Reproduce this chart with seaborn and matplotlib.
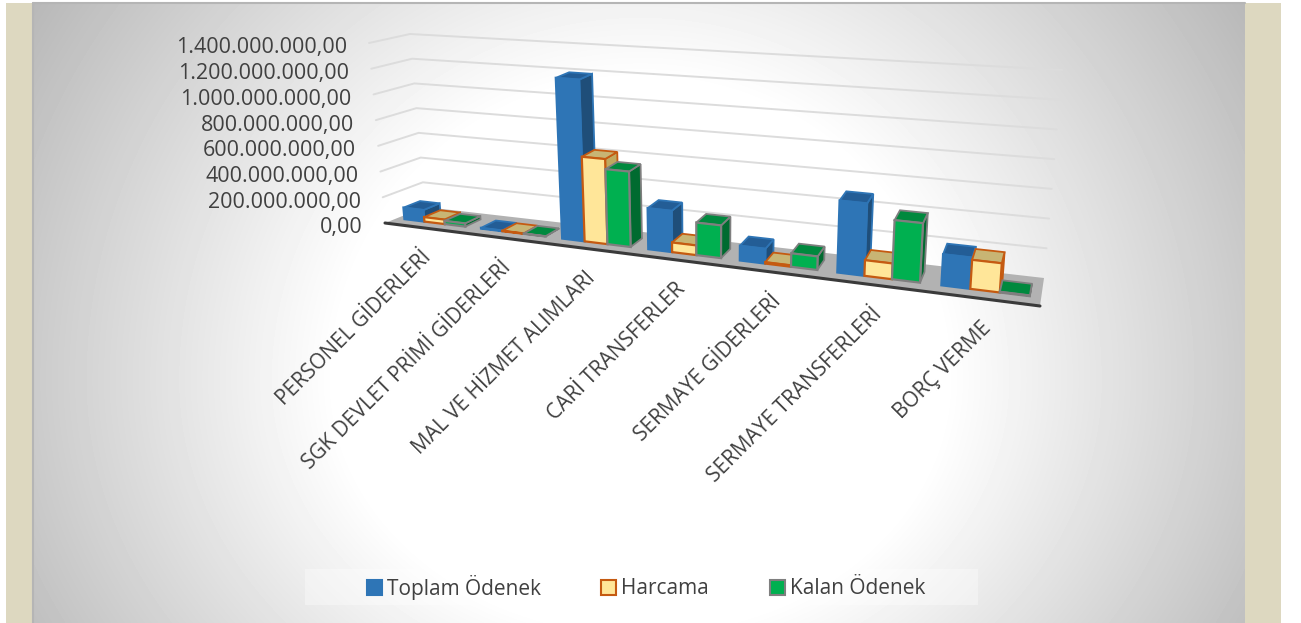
import numpy as np
import pandas as pd
import seaborn as sns
import matplotlib
matplotlib.use("Agg")
import matplotlib.pyplot as plt
from matplotlib.patches import Polygon, Rectangle
from matplotlib.transforms import Transform

### 1. Data
categories = ["PERSONEL GİDERLERİ", "SGK DEVLET PRİMİ GİDERLERİ",
              "MAL VE HİZMET ALIMLARI", "CARİ TRANSFERLER",
              "SERMAYE GİDERLERİ", "SERMAYE TRANSFERLERİ", "BORÇ VERME"]
toplam = [90e6, 5e6, 1205e6, 300e6, 105e6, 500e6, 210e6]
harcama = [35e6, 3e6, 630e6, 70e6, 10e6, 108e6, 195e6]
kalan = [25e6, 2e6, 555e6, 235e6, 95e6, 405e6, 5e6]
series = ["Toplam Ödenek", "Harcama", "Kalan Ödenek"]
tick_values = [0, 200e6, 400e6, 600e6, 800e6, 1000e6, 1200e6, 1400e6]
tick_labels = ["0,00", "200.000.000,00", "400.000.000,00", "600.000.000,00",
               "800.000.000,00", "1.000.000.000,00", "1.200.000.000,00",
               "1.400.000.000,00"]

df = pd.DataFrame({
    "kategori": categories * 3,
    "seri": np.repeat(series, len(categories)),
    "deger": toplam + harcama + kalan,
})

### 2. Fake 3D projection: (category, value, depth) -> image pixels
# corners of the chart box, [x index][value index][depth index]
BOX = np.array([
    [[(385, 223), (425, 207)], [(369, 43), (410, 34)]],
    [[(1040, 306), (1044, 278)], [(1056, 92), (1062, 70)]],
], dtype=float)
PERSPECTIVE = 1.243
YMAX = 1400e6
BAR_FRONT, BAR_BACK = 0.30, 0.72


def project(x, y, d):
    x, y, d = np.asarray(x, float), np.asarray(y, float), np.asarray(d, float)
    u = (x + 0.5) / 7
    t = u / (PERSPECTIVE - (PERSPECTIVE - 1) * u)
    v = y / YMAX
    out = 0
    for i, wi in enumerate([1 - t, t]):
        for j, wj in enumerate([1 - v, v]):
            for k, wk in enumerate([1 - d, d]):
                out = out + (wi * wj * wk)[..., None] * BOX[i, j, k]
    return out


class DepthTransform(Transform):
    input_dims = 2
    output_dims = 2

    def __init__(self, bar_depth):
        super().__init__()
        self.bar_depth = bar_depth

    def transform_non_affine(self, values):
        values = np.asarray(values)
        return project(values[:, 0], values[:, 1],
                       np.full(len(values), self.bar_depth))


### 3. Figure, background
sns.set_theme(style="white")
plt.rcParams["font.family"] = ["Open Sans", "DejaVu Sans"]
TEXT = "#404040"

fig = plt.figure(figsize=(13.01, 6.23), dpi=100, facecolor="white")
bg = fig.add_axes([0, 0, 1, 1])
bg.set_xlim(0, 1301)
bg.set_ylim(623, 0)
bg.axis("off")

bg.add_patch(Rectangle((6, 3), 1275, 620, color="#DDD8C0", lw=0, zorder=-2))
gx, gy = np.meshgrid(np.arange(33, 1245), np.arange(3, 623))
ry = np.where(gy < 380, 600, 500)
r = np.sqrt(((gx - 640) / 610) ** 2 + ((gy - 380) / ry) ** 2)
gray = 255 - 105 * np.clip(r - 0.5, 0, None)
bg.imshow(gray, cmap="gray", vmin=0, vmax=255, extent=(33, 1245, 623, 3),
          aspect="auto", interpolation="bilinear", zorder=-1)
bg.set_xlim(0, 1301)
bg.set_ylim(623, 0)
bg.plot([33, 33], [623, 3], color="#B5B5B5", lw=1.5)
bg.plot([33, 1245], [3, 3], color="#B5B5B5", lw=1.5)

# walls and floor
for val in tick_values[1:]:
    pts = project([-0.5, -0.5, 6.5], [val] * 3, [0, 1, 1])
    bg.plot(pts[:, 0], pts[:, 1], color="#DCDCDC", lw=1.4)
floor = project([-0.5, -0.5, 6.5, 6.5], [0] * 4, [0, 1, 1, 0])
bg.add_patch(Polygon(floor, color="#B2B2B2", lw=0))
front = project([-0.5, 6.5], [0, 0], [0, 0])
bg.plot(front[:, 0], front[:, 1], color="#3A3A3A", lw=2.2)

# value axis labels follow the front left edge
for val, lab in zip(tick_values, tick_labels):
    px, py = project(-0.5, val, 0)
    bg.text(px - 22, py + 5, lab, ha="right", va="center", fontsize=15.5,
            color=TEXT)

# category labels
for i, cat in enumerate(categories):
    px, py = project(i, 0, 0)
    bg.text(px + 5, py + 26, cat, rotation=45, rotation_mode="anchor",
            ha="right", va="center", fontsize=15, color=TEXT)

### 4. Bars
ax = fig.add_axes([0, 0, 1, 1])
ax.patch.set_visible(False)
sns.barplot(data=df, x="kategori", y="deger", hue="seri", hue_order=series,
            order=categories, palette=["#2E75B6", "#FFE699", "#00B050"],
            saturation=1, ax=ax)
ax.set_xlim(-0.5, 6.5)
ax.set_ylim(0, YMAX)
ax.set_xlabel("")
ax.set_ylabel("")
ax.set_xticks([])
ax.set_yticks([])
sns.despine(ax=ax, left=True, bottom=True)

front_tf = DepthTransform(BAR_FRONT) + bg.transData
styles = [
    dict(top="#235D96", side="#1F4E79", edge="#2E75B6"),
    dict(top="#C8B574", side="#BFA95F", edge="#C55A11"),
    dict(top="#00893E", side="#006B30", edge="#7F7F7F"),
]
for h, cont in enumerate(ax.containers):
    st = styles[h]
    for c, bar in enumerate(cont):
        x0, x1 = bar.get_x(), bar.get_x() + bar.get_width()
        y1 = bar.get_height()
        z = 10 + c * 10 + h * 2
        bar.set_transform(front_tf)
        bar.set_clip_on(False)
        bar.set_edgecolor(st["edge"])
        bar.set_linewidth(1.6)
        bar.set_zorder(z + 1)
        side = project([x1, x1, x1, x1], [0, y1, y1, 0],
                       [BAR_FRONT, BAR_FRONT, BAR_BACK, BAR_BACK])
        top = project([x0, x1, x1, x0], [y1] * 4,
                      [BAR_FRONT, BAR_FRONT, BAR_BACK, BAR_BACK])
        for pts, col in [(side, st["side"]), (top, st["top"])]:
            ax.add_patch(Polygon(pts, closed=True, facecolor=col,
                                 edgecolor=st["edge"], lw=1.3, zorder=z,
                                 transform=bg.transData, clip_on=False))

### 5. Legend
bg.add_patch(Rectangle((305, 569), 673, 36, color="white", alpha=0.35, lw=0))
sns.move_legend(ax, "center", bbox_to_anchor=(646 / 1301, 1 - 587 / 623),
                ncols=3, title=None, frameon=False, fontsize=15, borderpad=0,
                handlelength=0.72, handleheight=0.72, handletextpad=0.24,
                columnspacing=2.9, labelcolor=TEXT)
for handle, st in zip(ax.get_legend().legend_handles, styles):
    handle.set_edgecolor(st["edge"])
    handle.set_linewidth(1.5)

fig.savefig("out.png", dpi=100)
